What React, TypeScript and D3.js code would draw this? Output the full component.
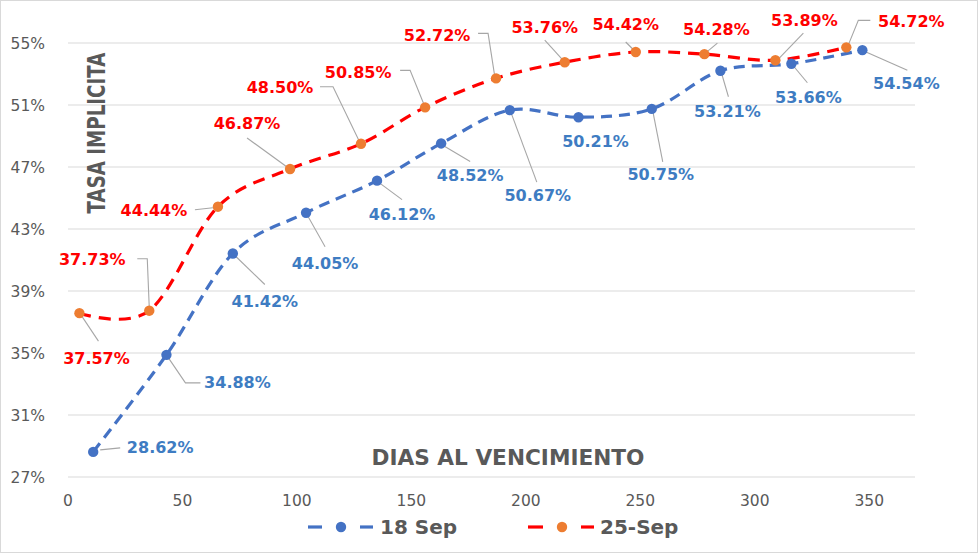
import React from "react";
import * as d3 from "d3";

// ---- data ----
const series18Days = [11, 43, 72, 104, 135, 163, 193, 223, 255, 285, 316, 347];
const series18Rates = [28.62, 34.88, 41.42, 44.05, 46.12, 48.52, 50.67, 50.21, 50.75, 53.21, 53.66, 54.54];
const series25Days = [5, 35.5, 65.5, 97, 128, 156, 187, 217, 248, 278, 309, 340];
const series25Rates = [37.57, 37.73, 44.44, 46.87, 48.5, 50.85, 52.72, 53.76, 54.42, 54.28, 53.89, 54.72];
const yTickValues = [27, 31, 35, 39, 43, 47, 51, 55];
const xTickValues = [0, 50, 100, 150, 200, 250, 300, 350];
const seriesNames = ["18 Sep", "25-Sep"];
const xTitle = "DIAS AL VENCIMIENTO";
const yTitle = "TASA IMPLICITA";

// ---- label layout (pixel offsets relative to each marker) ----
type Lab = { tx: number; ty: number; leader: [number, number][] };
const labels18: Lab[] = [
  { tx: 67, ty: -5, leader: [[7, -2], [27, -4]] },
  { tx: 71, ty: 27, leader: [[2, 3], [19, 28], [34, 28]] },
  { tx: 32, ty: 48, leader: [[2, 2], [32, 31]] },
  { tx: 19, ty: 51, leader: [[1, 2], [19, 34]] },
  { tx: 25, ty: 34, leader: [[2, 2], [25, 19]] },
  { tx: 29, ty: 32, leader: [[2, 2], [29, 18]] },
  { tx: 28, ty: 85, leader: [[1, 2], [27, 72]] },
  { tx: 17, ty: 24, leader: [] },
  { tx: 9, ty: 65, leader: [[1, 2], [11, 53]] },
  { tx: 7, ty: 40, leader: [[1, 2], [8, 26]] },
  { tx: 17, ty: 33, leader: [[1, 1], [16, 19]] },
  { tx: 44, ty: 33, leader: [[2, 1], [45, 20]] },
];
const labels25: Lab[] = [
  { tx: 17, ty: 45, leader: [[1, 1], [19, 28]] },
  { tx: -57, ty: -51, leader: [[-12, -52], [-2, -52], [0, -3]] },
  { tx: -64, ty: 4, leader: [[-23, 3], [-5, 1]] },
  { tx: -43, ty: -46, leader: [[-3, -2], [-43, -31]] },
  { tx: -81, ty: -57, leader: [[-41, -57], [-28, -57], [-1, -1]] },
  { tx: -67, ty: -35, leader: [[-25, -37], [-15, -37], [0, 0]] },
  { tx: -59, ty: -43, leader: [[-18, -45], [-8, -45], [-1, 0]] },
  { tx: -20, ty: -35, leader: [[-20, -22], [0, 0]] },
  { tx: -10, ty: -28, leader: [[-10, -10], [0, 0]] },
  { tx: 12, ty: -25, leader: [[13, -11], [1, -1]] },
  { tx: 29, ty: -40, leader: [[28, -27], [2, 0]] },
  { tx: 65, ty: -26, leader: [[24, -27], [12, -27], [1, 0]] },
];

const W = 980;
const H = 553;
const plot = { left: 68, right: 915, top: 43, bottom: 477 };

const BLUE_LINE = "#4472C4";
const BLUE_TEXT = "#3E7CC2";
const RED = "#FF0000";
const ORANGE = "#ED7D31";
const GRAY_TEXT = "#595959";
const GRID = "#D9D9D9";
const LEADER = "#A6A6A6";
const FONT = "'DejaVu Sans', sans-serif";

export default function App() {
  const x = d3.scaleLinear().domain([0, 370]).range([plot.left, plot.right]);
  const y = d3.scaleLinear().domain([27, 55]).range([plot.bottom, plot.top]);

  const line = d3
    .line<[number, number]>()
    .x((d) => x(d[0]))
    .y((d) => y(d[1]))
    .curve(d3.curveCardinal.tension(0));

  const s18: [number, number][] = series18Days.map((d, i) => [d, series18Rates[i]]);
  const s25: [number, number][] = series25Days.map((d, i) => [d, series25Rates[i]]);

  const series = [
    { pts: s18, lineColor: BLUE_LINE, markerColor: BLUE_LINE, textColor: BLUE_TEXT, labs: labels18, dash: "11,7" },
    { pts: s25, lineColor: RED, markerColor: ORANGE, textColor: RED, labs: labels25, dash: "12,8" },
  ];

  const leaderLine = d3.line<[number, number]>();

  return (
    <svg
      width={W}
      height={H}
      viewBox={`0 0 ${W} ${H}`}
      style={{ position: "absolute", left: 0, top: 0, background: "#fff" }}
      fontFamily={FONT}
    >
      <rect x={0.5} y={0.5} width={W - 3} height={H - 1} fill="#fff" stroke={GRID} strokeWidth={1} />

      {/* gridlines */}
      {yTickValues.map((t) => (
        <line key={"g" + t} x1={plot.left} x2={plot.right} y1={y(t)} y2={y(t)} stroke={GRID} strokeWidth={1.2} />
      ))}

      {/* y tick labels */}
      {yTickValues.map((t) => (
        <text key={"yt" + t} x={plot.left - 23} y={y(t)} dy="0.36em" textAnchor="end" fontSize={15.5} fill={GRAY_TEXT}>
          {t}%
        </text>
      ))}

      {/* x tick labels */}
      {xTickValues.map((t) => (
        <text key={"xt" + t} x={x(t)} y={500} dy="0.36em" textAnchor="middle" fontSize={15.5} fill={GRAY_TEXT}>
          {t}
        </text>
      ))}

      {/* axis titles */}
      <text
        x={508}
        y={457}
        dy="0.36em"
        textAnchor="middle"
        fontSize={22}
        fontWeight="bold"
        fill={GRAY_TEXT}
        textLength={273}
        lengthAdjust="spacingAndGlyphs"
      >
        {xTitle}
      </text>
      <text
        transform="translate(96,133) rotate(-90)"
        textAnchor="middle"
        dy="0.36em"
        fontSize={24}
        fontWeight="bold"
        fill={GRAY_TEXT}
        textLength={161}
        lengthAdjust="spacingAndGlyphs"
      >
        {yTitle}
      </text>

      {/* series lines */}
      {series.map((s, i) => (
        <path
          key={"l" + i}
          d={line(s.pts) || ""}
          fill="none"
          stroke={s.lineColor}
          strokeWidth={3.2}
          strokeDasharray={s.dash}
        />
      ))}

      {/* leaders */}
      {series.map((s, i) =>
        s.pts.map((p, j) => {
          const lab = s.labs[j];
          if (!lab.leader.length) return null;
          const mx = x(p[0]);
          const my = y(p[1]);
          const pts = lab.leader.map(([a, b]) => [mx + a, my + b] as [number, number]);
          return (
            <path key={`ld${i}-${j}`} d={leaderLine(pts) || ""} fill="none" stroke={LEADER} strokeWidth={1.1} />
          );
        })
      )}

      {/* markers */}
      {series.map((s, i) =>
        s.pts.map((p, j) => (
          <circle key={`m${i}-${j}`} cx={x(p[0])} cy={y(p[1])} r={5.2} fill={s.markerColor} />
        ))
      )}

      {/* data labels */}
      {series.map((s, i) =>
        s.pts.map((p, j) => {
          const lab = s.labs[j];
          return (
            <text
              key={`t${i}-${j}`}
              x={x(p[0]) + lab.tx}
              y={y(p[1]) + lab.ty}
              dy="0.36em"
              textAnchor="middle"
              fontSize={16}
              fontWeight="bold"
              fill={s.textColor}
            >
              {p[1].toFixed(2)}%
            </text>
          );
        })
      )}

      {/* legend */}
      <g>
        <line x1={308} x2={322} y1={527} y2={527} stroke={BLUE_LINE} strokeWidth={3.2} />
        <circle cx={341} cy={527} r={5.2} fill={BLUE_LINE} />
        <line x1={360} x2={373} y1={527} y2={527} stroke={BLUE_LINE} strokeWidth={3.2} />
        <text x={380} y={527} dy="0.36em" fontSize={20} fontWeight="bold" fill={GRAY_TEXT}>
          {seriesNames[0]}
        </text>
        <line x1={528} x2={543} y1={527} y2={527} stroke={RED} strokeWidth={3.2} />
        <circle cx={562} cy={527} r={5.2} fill={ORANGE} />
        <line x1={581} x2={594} y1={527} y2={527} stroke={RED} strokeWidth={3.2} />
        <text x={600} y={527} dy="0.36em" fontSize={20} fontWeight="bold" fill={GRAY_TEXT}>
          {seriesNames[1]}
        </text>
      </g>
    </svg>
  );
}
